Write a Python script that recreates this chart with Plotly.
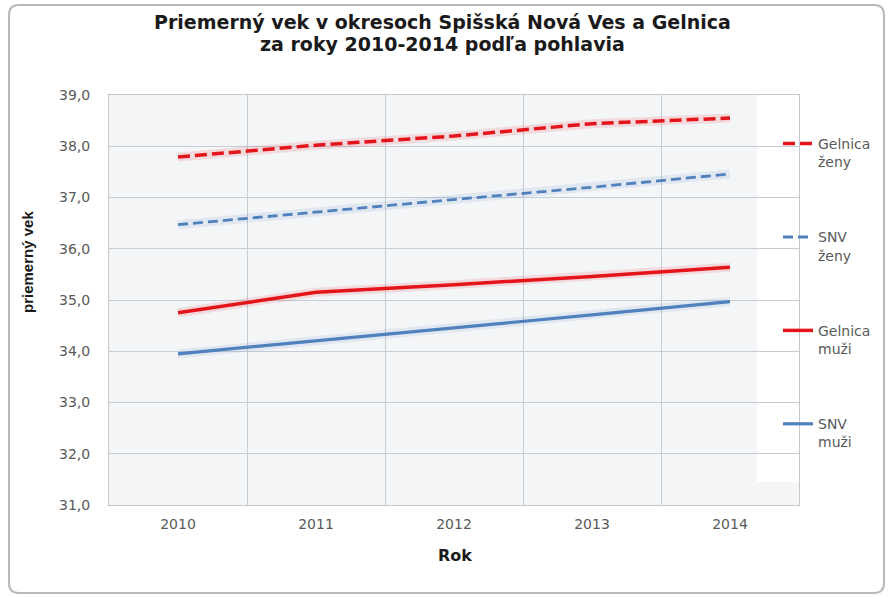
import plotly.graph_objects as go

years = ["2010", "2011", "2012", "2013", "2014"]
gelnica_zeny = [37.79, 38.02, 38.20, 38.44, 38.55]
snv_zeny = [36.47, 36.72, 36.96, 37.20, 37.46]
gelnica_muzi = [34.75, 35.15, 35.30, 35.46, 35.64]
snv_muzi = [33.95, 34.20, 34.46, 34.71, 34.97]

series = [
    ("Gelnica<br>ženy", gelnica_zeny, "#e4141b", "12px,5px", 3.5, "rgba(228,20,27,0.12)"),
    ("SNV<br>ženy", snv_zeny, "#4f81bd", "10px,5px", 2.8, "rgba(79,129,189,0.12)"),
    ("Gelnica<br>muži", gelnica_muzi, "#e4141b", "solid", 3.5, "rgba(228,20,27,0.12)"),
    ("SNV<br>muži", snv_muzi, "#4f81bd", "solid", 3.2, "rgba(79,129,189,0.12)"),
]

fig = go.Figure()
for i, (name, vals, col, dash, w, glow) in enumerate(series):
    fig.add_trace(go.Scatter(x=years, y=vals, mode="lines", showlegend=False,
                             hoverinfo="skip",
                             line=dict(color=glow, width=9)))
for i, (name, vals, col, dash, w, glow) in enumerate(series):
    fig.add_trace(go.Scatter(x=years, y=vals, mode="lines", name=name,
                             legendgroup="g%d" % i,
                             line=dict(color=col, width=w, dash=dash)))

L, R, T, B = 109, 799, 95, 505
W, H = 889, 597
def px(x):
    return (x - L) / (R - L)
def py(y):
    return (B - y) / (B - T)

# rounded outer frame
x0, x1, y0, y1, r = 9, 884, 5, 593, 10
path = (f"M {px(x0+r)},{py(y0)} L {px(x1-r)},{py(y0)} Q {px(x1)},{py(y0)} {px(x1)},{py(y0+r)} "
        f"L {px(x1)},{py(y1-r)} Q {px(x1)},{py(y1)} {px(x1-r)},{py(y1)} "
        f"L {px(x0+r)},{py(y1)} Q {px(x0)},{py(y1)} {px(x0)},{py(y1-r)} "
        f"L {px(x0)},{py(y0+r)} Q {px(x0)},{py(y0)} {px(x0+r)},{py(y0)} Z")
shapes = [
    dict(type="path", path=path, xref="paper", yref="paper",
         line=dict(color="#b8b8b8", width=2), layer="below"),
    dict(type="rect", xref="paper", yref="paper", x0=px(757), x1=1, y0=py(482), y1=1,
         fillcolor="white", line=dict(width=0), layer="between"),
]

title_font = dict(family="DejaVu Sans", size=19, color="#1a1a1a")
annotations = [
    dict(text="<b>Priemerný vek v okresoch Spišská Nová Ves a Gelnica</b>",
         xref="paper", yref="paper", x=px(442), y=py(22), xanchor="center", yanchor="middle",
         showarrow=False, font=title_font),
    dict(text="<b>za roky 2010-2014 podľa pohlavia</b>",
         xref="paper", yref="paper", x=px(442), y=py(44), xanchor="center", yanchor="middle",
         showarrow=False, font=title_font),
    dict(text="<b>priemerný vek</b>", textangle=-90, xref="paper", yref="paper",
         x=px(27), y=py(262), xanchor="center", yanchor="middle", showarrow=False,
         font=dict(family="Liberation Sans, Arial", size=15, color="#1a1a1a")),
    dict(text="<b>Rok</b>", xref="paper", yref="paper", x=px(455), y=py(555),
         xanchor="center", yanchor="middle", showarrow=False,
         font=dict(family="DejaVu Sans", size=16, color="#1a1a1a")),
]

fig.update_layout(
    width=W, height=H,
    margin=dict(l=L, r=W - R, t=T, b=H - B),
    paper_bgcolor="white",
    plot_bgcolor="#f4f5f7",
    separators=", ",
    shapes=shapes,
    annotations=annotations,
    showlegend=True,
    legend=dict(x=px(778), y=py(128), xanchor="left", yanchor="top",
                bgcolor="rgba(0,0,0,0)", tracegroupgap=54, valign="top",
                font=dict(family="DejaVu Sans", size=14, color="#595959")),
)
tick_font = dict(family="DejaVu Sans", size=14, color="#595959")
fig.update_xaxes(type="category", range=[-0.5, 4.5], tickson="boundaries",
                 showgrid=True, gridcolor="#c4ccd8", gridwidth=1,
                 showline=True, linecolor="#c8c8c8", linewidth=1, mirror=True,
                 ticks="", ticklabelstandoff=6, tickfont=tick_font)
fig.update_yaxes(range=[31, 39], dtick=1, tickformat=".1f",
                 showgrid=True, gridcolor="#c4ccd8", gridwidth=1,
                 showline=True, linecolor="#c8c8c8", linewidth=1, mirror=True,
                 ticks="", ticklabelstandoff=15, zeroline=False,
                 tickfont=tick_font)

fig.write_html("out.html", post_script="document.body.style.margin='0';",
               config={"displayModeBar": False})
